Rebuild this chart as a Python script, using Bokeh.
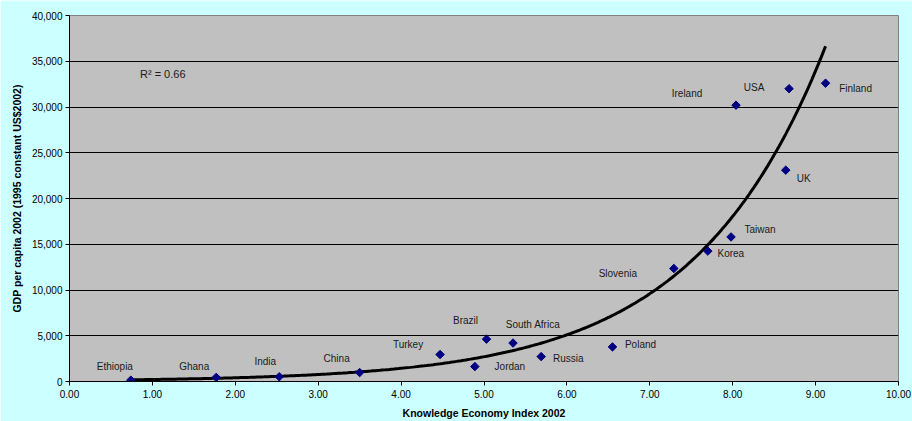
import numpy as np
from bokeh.plotting import figure
from bokeh.models import (ColumnDataSource, Range1d, SingleIntervalTicker,
                          NumeralTickFormatter, Label)
from bokeh.core.properties import value
from bokeh.embed import file_html
from bokeh.resources import INLINE

# ---------------- data ----------------
countries = ["Ethiopia", "Ghana", "India", "China", "Turkey", "Brazil", "Jordan",
             "South Africa", "Russia", "Poland", "Slovenia", "Korea", "Taiwan",
             "Ireland", "USA", "Finland", "UK"]
kei = [0.74, 1.77, 2.53, 3.50, 4.47, 5.03, 4.89, 5.35, 5.69, 6.55, 7.29, 7.70,
       7.98, 8.04, 8.68, 9.12, 8.64]
gdp = [150, 450, 520, 980, 2950, 4630, 1630, 4200, 2720, 3780, 12350, 14250,
       15800, 30200, 32000, 32600, 23100]

# exponential trend line y = a * exp(b * x)
trend_a = 115.0
trend_b = 0.632
trend_x_start = 0.75
trend_x_end = 9.12
r2_text = "R\u00b2 = 0.66"

x_title = "Knowledge Economy Index 2002"
y_title = "GDP per capita 2002 (1995 constant US$2002)"

# ---------------- layout / style ----------------
# pixel offsets of each country label relative to its marker (screen, +down)
label_dx = [-16, -22, -14, -23, -32, -21, 35, 20, 27, 28, -56, 23, 29, -49, -35, 30, 18]
label_dy = [-14, -11, -15, -14, -10, -19, 0, -19, 2, -2, 5, 2, -7, -12, -1, 5, 8]

FONT = "Liberation Sans"

p = figure(width=912, height=421, output_backend="svg", toolbar_location=None,
           x_range=Range1d(0, 10), y_range=Range1d(0, 40000),
           min_border_left=69, min_border_right=14, min_border_top=15,
           min_border_bottom=38)
p.background_fill_color = "#C0C0C0"
p.border_fill_color = "#CCFFFF"
p.outline_line_color = "#808080"
p.outline_line_width = 1

p.xgrid.visible = False
p.ygrid.grid_line_color = "black"
p.ygrid.grid_line_width = 1
p.ygrid.grid_line_alpha = 1.0

p.xaxis.ticker = SingleIntervalTicker(interval=1)
p.yaxis.ticker = SingleIntervalTicker(interval=5000)
p.xaxis.formatter = NumeralTickFormatter(format="0.00")
p.yaxis.formatter = NumeralTickFormatter(format="0,0")

for ax in (p.xaxis[0], p.yaxis[0]):
    ax.axis_line_color = "black"
    ax.axis_line_width = 1
    ax.major_tick_line_color = "black"
    ax.major_tick_in = 0
    ax.major_tick_out = 4
    ax.minor_tick_line_color = None
    ax.major_label_text_font = FONT
    ax.major_label_text_font_size = "10px"
    ax.major_label_text_color = "black"
    ax.axis_label_text_font = FONT
    ax.axis_label_text_font_size = "10.5px"
    ax.axis_label_text_font_style = "bold"
    ax.axis_label_text_color = "black"

p.xaxis.axis_label = x_title
p.yaxis.axis_label = y_title
p.xaxis.major_label_standoff = 4
p.xaxis.axis_label_standoff = 6
p.yaxis.major_label_standoff = 3
p.yaxis.axis_label_standoff = 6

# trend line
tx = np.linspace(trend_x_start, trend_x_end, 300)
ty = trend_a * np.exp(trend_b * tx)
p.line(tx, ty, line_color="black", line_width=3)

src = ColumnDataSource(dict(x=kei, y=gdp, name=countries,
                            dx=label_dx, dy=label_dy))
p.scatter("x", "y", source=src, marker="square", angle=np.pi / 4, size=6,
          fill_color="#000080", line_color="#000080")

p.text("x", "y", text="name", source=src, x_offset="dx", y_offset="dy",
       text_align="center", text_baseline="middle",
       text_font=value(FONT), text_font_size="10px", text_color="#1a1a1a")

p.add_layout(Label(x=0.85, y=33650, text=r2_text, text_font=FONT,
                   text_font_size="11px", text_color="#1a1a1a",
                   text_baseline="middle", text_align="left"))

open("out.html", "w").write(file_html(p, INLINE))
